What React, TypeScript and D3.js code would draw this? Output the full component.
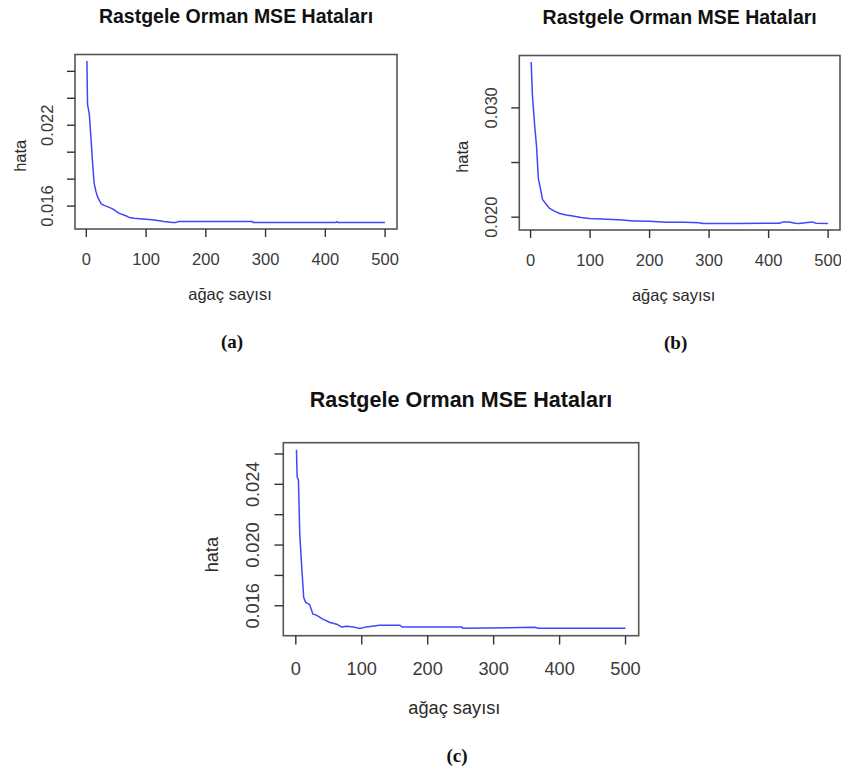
import React from "react";
import * as d3 from "d3";

// panel (a)
const treesA = [1, 2, 3, 5, 8, 10, 13, 16, 19, 22, 25, 30, 35, 44, 55, 65, 72, 80, 94, 100, 110, 122, 130, 144, 150, 155, 200, 250, 278, 279, 350, 417, 419, 421, 500];
const errorsA = [0.02677, 0.02355, 0.0233, 0.0228, 0.0209, 0.0195, 0.0177, 0.0171, 0.01666, 0.0164, 0.01617, 0.01605, 0.01596, 0.01579, 0.01546, 0.0153, 0.01516, 0.0151, 0.01504, 0.01502, 0.01498, 0.01491, 0.01485, 0.01478, 0.01479, 0.01486, 0.01486, 0.01486, 0.01486, 0.01478, 0.01478, 0.01478, 0.01484, 0.01478, 0.01478];

// panel (b)
const treesB = [1, 3, 7, 10, 13, 17, 20, 26, 32, 40, 49, 60, 71, 85, 99, 120, 138, 155, 172, 175, 200, 228, 260, 283, 290, 350, 418, 425, 434, 445, 451, 473, 480, 500];
const errorsB = [0.0342, 0.0312, 0.0283, 0.0265, 0.02356, 0.0225, 0.02163, 0.0212, 0.0208, 0.02055, 0.02034, 0.0202, 0.0201, 0.01997, 0.01988, 0.01984, 0.01979, 0.01975, 0.01966, 0.01966, 0.01962, 0.01954, 0.01954, 0.0195, 0.01942, 0.01942, 0.01945, 0.01957, 0.01957, 0.01945, 0.01942, 0.01957, 0.01945, 0.01942];

// panel (c)
const treesC = [1, 2, 4, 6, 9, 12, 15, 21, 26, 31, 41, 52, 62, 69, 77, 87, 97, 107, 127, 158, 161, 223, 252, 253, 362, 368, 500];
const errorsC = [0.02627, 0.0245, 0.02428, 0.02075, 0.01854, 0.01655, 0.01622, 0.01607, 0.01545, 0.01539, 0.01512, 0.0149, 0.01479, 0.01461, 0.01465, 0.01461, 0.0145, 0.01461, 0.01472, 0.01472, 0.01461, 0.01461, 0.01461, 0.01452, 0.01458, 0.01452, 0.01452];

const xTicks = [0, 100, 200, 300, 400, 500];
const yTicksA = [0.016, 0.018, 0.02, 0.022, 0.024, 0.026];
const yLabelsA = ["0.016", "0.022"];
const yTicksB = [0.02, 0.025, 0.03];
const yLabelsB = ["0.020", "0.030"];
const yTicksC = [0.016, 0.018, 0.02, 0.022, 0.024, 0.026];
const yLabelsC = ["0.016", "0.020", "0.024"];

const title = "Rastgele Orman MSE Hataları";
const xTitle = "ağaç sayısı";
const yTitle = "hata";

const sans = "'Liberation Sans', Arial, Helvetica, sans-serif";
const serif = "'Liberation Serif', 'Times New Roman', serif";

// R style range with 4% padding
const rRange = (vals: number[]) => {
  const [lo, hi] = d3.extent(vals) as [number, number];
  const pad = (hi - lo) * 0.04;
  return [lo - pad, hi + pad];
};

type PanelProps = {
  trees: number[];
  errors: number[];
  yTicks: number[];
  yLabels: string[];
  box: { left: number; right: number; top: number; bottom: number };
  k: number;
  hataOffset: number;
  caption: string;
  captionY: number;
};

const Panel = ({ trees, errors, yTicks, yLabels, box, k, hataOffset, caption, captionY }: PanelProps) => {
  const x = d3.scaleLinear().domain(rRange(trees)).range([box.left, box.right]);
  const y = d3.scaleLinear().domain(rRange(errors)).range([box.bottom, box.top]);
  const pts = trees.map((t, i) => [t, errors[i]] as [number, number]);
  const line = d3
    .line<[number, number]>()
    .x((d) => x(d[0]))
    .y((d) => y(d[1]));
  const cx = (box.left + box.right) / 2;
  const cy = (box.top + box.bottom) / 2 + 14 * k;
  const tickLen = 8 * k;
  const fs = 16.5 * k;
  const ylx = box.left - 22 * k;
  const hx = box.left - hataOffset;

  return (
    <g>
      <text x={cx} y={box.top - 32 * k} textAnchor="middle" fontFamily={sans} fontWeight="bold" fontSize={19.5 * k} fill="#111">
        {title}
      </text>
      <rect
        x={box.left}
        y={box.top}
        width={box.right - box.left}
        height={box.bottom - box.top}
        fill="none"
        stroke="#555"
        strokeWidth={1.6}
      />
      <path d={line(pts) ?? ""} fill="none" stroke="#4444ff" strokeWidth={1.5} strokeLinejoin="round" />
      {xTicks.map((t) => (
        <g key={`x-${t}`}>
          <line x1={x(t)} x2={x(t)} y1={box.bottom} y2={box.bottom + tickLen} stroke="#333" strokeWidth={1.4} />
          <text x={x(t)} y={box.bottom + 35.5 * k} textAnchor="middle" fontFamily={sans} fontSize={fs} fill="#3a3a3a">
            {t}
          </text>
        </g>
      ))}
      {yTicks.map((t) => (
        <line key={`y-${t}`} x1={box.left - tickLen} x2={box.left} y1={y(t)} y2={y(t)} stroke="#333" strokeWidth={1.4} />
      ))}
      {yLabels.map((l) => (
        <text
          key={`yl-${l}`}
          transform={`translate(${ylx},${y(+l)}) rotate(-90)`}
          textAnchor="middle"
          fontFamily={sans}
          fontSize={fs}
          fill="#3a3a3a"
        >
          {l}
        </text>
      ))}
      <text x={cx - 6 * k} y={box.bottom + 70.5 * k} textAnchor="middle" fontFamily={sans} fontSize={fs} fill="#2a2a2a">
        {xTitle}
      </text>
      <text
        transform={`translate(${hx},${cy}) rotate(-90)`}
        textAnchor="middle"
        fontFamily={sans}
        fontSize={fs}
        fill="#2a2a2a"
      >
        {yTitle}
      </text>
      <text x={cx - 4} y={captionY} textAnchor="middle" fontFamily={serif} fontWeight="bold" fontSize={19} fill="#111">
        {caption}
      </text>
    </g>
  );
};

export default function App() {
  return (
    <svg
      width={841}
      height={773}
      style={{ position: "absolute", left: 0, top: 0, background: "#fff" }}
    >
      <rect width={841} height={773} fill="#fff" />
      <Panel
        trees={treesA}
        errors={errorsA}
        yTicks={yTicksA}
        yLabels={yLabelsA}
        box={{ left: 75, right: 397, top: 54.5, bottom: 229 }}
        k={1}
        hataOffset={49}
        caption="(a)"
        captionY={348}
      />
      <Panel
        trees={treesB}
        errors={errorsB}
        yTicks={yTicksB}
        yLabels={yLabelsB}
        box={{ left: 519.3, right: 840, top: 55.5, bottom: 230 }}
        k={1}
        hataOffset={51}
        caption="(b)"
        captionY={349}
      />
      <Panel
        trees={treesC}
        errors={errorsC}
        yTicks={yTicksC}
        yLabels={yLabelsC}
        box={{ left: 283.3, right: 638.7, top: 442.7, bottom: 635.7 }}
        k={1.104}
        hataOffset={65}
        caption="(c)"
        captionY={762}
      />
    </svg>
  );
}
